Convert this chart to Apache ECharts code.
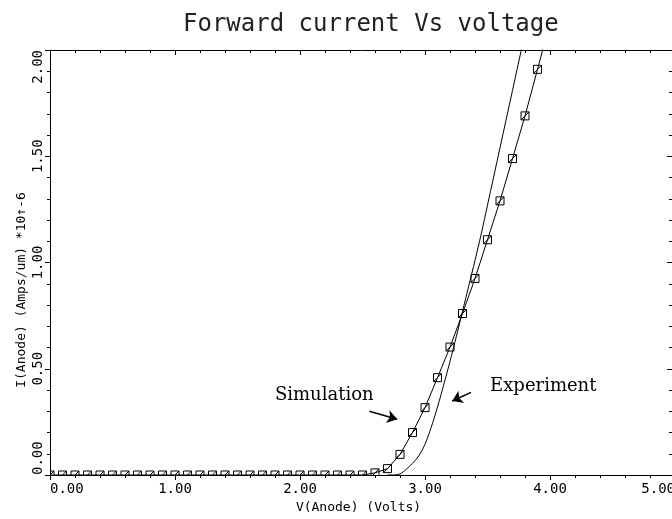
<!DOCTYPE html>
<html>
<head>
<meta charset="utf-8">
<script src="https://cdn.jsdelivr.net/npm/echarts@6/dist/echarts.min.js"></script>
<style>
html,body{margin:0;padding:0;background:#fff;}
#c{width:672px;height:519px;}
</style>
</head>
<body>
<div id="c"></div>
<script>
// ---- text ----
const TITLE = 'Forward current Vs voltage';
const X_NAME = 'V(Anode) (Volts)';
const Y_NAME = 'I(Anode) (Amps/um) *10\u2191-6';
const X_TICK_LABELS = ['0.00', '1.00', '2.00', '3.00', '4.00', '5.00'];
const Y_TICK_LABELS = ['0.00', '0.50', '1.00', '1.50', '2.00'];

// ---- Simulation (square markers) ----
const SIM_V = [0.0, 0.1, 0.2, 0.3, 0.4, 0.5, 0.6, 0.7, 0.8, 0.9,
               1.0, 1.1, 1.2, 1.3, 1.4, 1.5, 1.6, 1.7, 1.8, 1.9,
               2.0, 2.1, 2.2, 2.3, 2.4, 2.5, 2.6, 2.7, 2.8, 2.9,
               3.0, 3.1, 3.2, 3.3, 3.4, 3.5, 3.6, 3.7, 3.8, 3.9, 4.0];
const SIM_I = [0, 0, 0, 0, 0, 0, 0, 0, 0, 0,
               0, 0, 0, 0, 0, 0, 0, 0, 0, 0,
               0, 0, 0, 0, 0, 0, 0.01, 0.03, 0.097, 0.2,
               0.317, 0.458, 0.602, 0.76, 0.925, 1.107, 1.29, 1.489, 1.69, 1.909, 2.13];

// ---- Experiment (plain curve) ----
const EXP_V = [2.70, 2.75, 2.80, 2.85, 2.90, 2.95, 3.00, 3.05, 3.10, 3.15,
               3.20, 3.25, 3.30, 3.35, 3.40, 3.45, 3.50, 3.60, 3.70, 3.80];
const EXP_I = [0, 0, 0.005, 0.027, 0.055, 0.09, 0.145, 0.225, 0.32, 0.425,
               0.535, 0.65, 0.77, 0.89, 1.01, 1.135, 1.27, 1.54, 1.81, 2.08];

// ---- annotations (data coordinates) ----
const ANNOT_TEXT = ['Simulation', 'Experiment'];
const ANNOT_TEXT_AT = [[2.194, 0.375], [3.946, 0.418]];
const ARROW_FROM = [[2.554, 0.300], [3.368, 0.389]];
const ARROW_TO = [[2.778, 0.262], [3.218, 0.348]];

// ---- layout ----
const GRID_LEFT = 50, GRID_TOP = 50, GRID_W = 625, GRID_H = 425;
const W = 672, H = 519;
const MONO = 'DejaVu Sans Mono';

const zip = (a, b) => a.map((v, i) => [v, b[i]]);

const chart = echarts.init(document.getElementById('c'), null, {renderer: 'canvas'});

const axisLineStyle = {color: '#000', width: 1};

const option = {
  animation: false,
  backgroundColor: '#fff',
  title: {
    text: TITLE,
    left: 183,
    top: 13,
    padding: 0,
    textStyle: {fontFamily: MONO, fontSize: 24, fontWeight: 'normal', color: '#222'}
  },
  grid: {left: GRID_LEFT, top: GRID_TOP, width: GRID_W, height: GRID_H, containLabel: false, outerBoundsMode: 'none'},
  xAxis: [
    {
      type: 'value', position: 'bottom', min: 0, max: 5, interval: 1, zlevel: 2, z: 10,
      name: X_NAME, nameLocation: 'middle', nameGap: 26,
      nameTextStyle: {fontFamily: MONO, fontSize: 13, color: '#000', padding: [0, 8, 0, 0]},
      axisLine: {show: true, onZero: false, lineStyle: axisLineStyle},
      axisTick: {show: true, inside: false, length: 5, lineStyle: axisLineStyle},
      minorTick: {show: true, splitNumber: 5, length: 3, lineStyle: axisLineStyle},
      splitLine: {show: false}, minorSplitLine: {show: false},
      axisLabel: {
        show: true, margin: 7, fontFamily: MONO, fontSize: 14, color: '#000',
        alignMinLabel: 'left', alignMaxLabel: 'right',
        formatter: v => X_TICK_LABELS[Math.round(v)]
      }
    },
    {
      type: 'value', position: 'top', min: 0, max: 5, interval: 1, zlevel: 2, z: 10,
      axisLine: {show: true, onZero: false, lineStyle: axisLineStyle},
      axisTick: {show: true, inside: true, length: 5, lineStyle: axisLineStyle},
      minorTick: {show: true, splitNumber: 5, length: 3, lineStyle: axisLineStyle},
      splitLine: {show: false}, axisLabel: {show: false}
    }
  ],
  yAxis: [
    {
      type: 'value', position: 'left', min: 0, max: 2, interval: 0.5, zlevel: 2, z: 10,
      axisLine: {show: true, onZero: false, lineStyle: axisLineStyle},
      axisTick: {show: true, inside: false, length: 5, lineStyle: axisLineStyle},
      minorTick: {show: true, splitNumber: 5, length: 3, lineStyle: axisLineStyle},
      splitLine: {show: false}, minorSplitLine: {show: false},
      axisLabel: {
        show: true, rotate: 90, margin: 5, fontFamily: MONO, fontSize: 14, color: '#000',
        alignMinLabel: 'left', alignMaxLabel: 'right',
        formatter: v => Y_TICK_LABELS[Math.round(v / 0.5)]
      }
    },
    {
      type: 'value', position: 'right', min: 0, max: 2, interval: 0.5, zlevel: 2, z: 10,
      axisLine: {show: true, onZero: false, lineStyle: axisLineStyle},
      axisTick: {show: true, inside: true, length: 8, lineStyle: axisLineStyle},
      minorTick: {show: true, splitNumber: 5, length: 6, lineStyle: axisLineStyle},
      splitLine: {show: false}, axisLabel: {show: false}
    }
  ],
  graphic: [
    // masks that clip the markers to the plot frame (axes are drawn on a higher layer)
    {type: 'rect', zlevel: 1, z: 5, silent: true,
     shape: {x: 0, y: GRID_TOP + GRID_H, width: W, height: H - GRID_TOP - GRID_H},
     style: {fill: '#fff'}},
    {type: 'rect', zlevel: 1, z: 5, silent: true,
     shape: {x: 0, y: 0, width: GRID_LEFT, height: H},
     style: {fill: '#fff'}},
    {type: 'text', zlevel: 2, z: 11, silent: true,
     x: 22, y: 290, rotation: Math.PI / 2,
     style: {text: Y_NAME, fontFamily: MONO, fontSize: 13, fill: '#000',
             align: 'center', verticalAlign: 'middle',
             textAlign: 'center', textVerticalAlign: 'middle'}}
  ],
  series: [
    {
      name: 'Simulation', type: 'line', xAxisIndex: 0, yAxisIndex: 0,
      data: zip(SIM_V, SIM_I),
      clip: true,
      symbol: 'path://M0,0H10V10H0Z M0,10L10,0',
      symbolSize: 8,
      showAllSymbol: true,
      itemStyle: {color: 'rgba(0,0,0,0)', borderColor: '#000', borderWidth: 1},
      lineStyle: {color: '#000', width: 1},
      emphasis: {disabled: true},
      markLine: {
        silent: true, symbol: ['none', 'arrow'], symbolSize: 10,
        label: {show: false},
        lineStyle: {color: '#000', width: 1.5, type: 'solid'},
        emphasis: {disabled: true},
        data: ARROW_FROM.map((p, i) => [{coord: p}, {coord: ARROW_TO[i]}])
      },
      markPoint: {
        silent: true, symbol: 'rect', symbolSize: 1,
        itemStyle: {color: 'rgba(0,0,0,0)'},
        label: {show: true, position: 'inside', formatter: '{b}',
                fontFamily: 'DejaVu Serif', fontSize: 18, color: '#000'},
        data: ANNOT_TEXT.map((t, i) => ({name: t, coord: ANNOT_TEXT_AT[i]}))
      }
    },
    {
      name: 'Experiment', type: 'line', xAxisIndex: 0, yAxisIndex: 0,
      data: zip(EXP_V, EXP_I),
      clip: true, smooth: 0.3, showSymbol: false, symbol: 'none',
      lineStyle: {color: '#000', width: 1},
      emphasis: {disabled: true}
    }
  ]
};
chart.setOption(option);
</script>
</body>
</html>
